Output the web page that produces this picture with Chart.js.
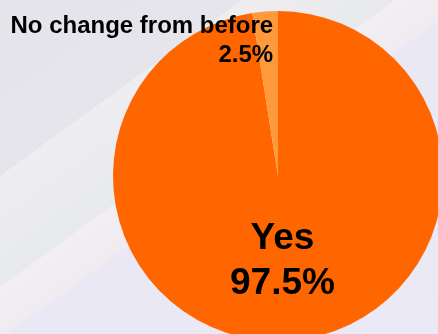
<!DOCTYPE html>
<html>
<head>
<meta charset="utf-8">
<script src="https://cdn.jsdelivr.net/npm/chart.js@4.4.1/dist/chart.umd.min.js"></script>
<style>
  html, body { margin: 0; padding: 0; }
  body {
    width: 438px; height: 334px; overflow: hidden; position: relative;
    background: linear-gradient(144deg, #e6e4eb 0%, #e7e5ec 27%, #eeeef1 27%, #e8e9eb 44%, #f3eef1 44%, #efebf0 52%, #eae8f4 52%, #ebe9f5 100%);
  }
  #wrap { position: absolute; left: 0; top: 0; width: 460px; height: 360px; }
</style>
</head>
<body>
<div id="wrap"><canvas id="pie"></canvas></div>
<script>
  const categories = ['Yes', 'No change from before'];
  const shares = [97.5, 2.5];
  const sliceColors = ['#ff6600', '#ff9a3c'];

  // label style per slice: inside (Yes) or outside near the rim (small slice)
  const labelStyle = [
    { font: 37, lineH: 45, radius: 0.5, align: 'center', dx: -2 },
    { font: 24, lineH: 29, radius: 0.836, align: 'right', dx: 6 }
  ];

  const sliceLabels = {
    id: 'sliceLabels',
    afterDatasetsDraw(chart) {
      const ctx = chart.ctx;
      const arcs = chart.getDatasetMeta(0).data;
      arcs.forEach((arc, i) => {
        const st = labelStyle[i];
        const p = arc.getProps(['x', 'y', 'startAngle', 'endAngle', 'outerRadius'], true);
        const mid = (p.startAngle + p.endAngle) / 2;
        const r = p.outerRadius * st.radius;
        const ax = p.x + Math.cos(mid) * r + st.dx;
        const ay = p.y + Math.sin(mid) * r;
        const lines = [categories[i], shares[i] + '%'];
        const cap = st.font * 0.716;
        ctx.save();
        ctx.font = `bold ${st.font}px "Liberation Sans", Arial, sans-serif`;
        ctx.fillStyle = '#000';
        ctx.textAlign = st.align;
        ctx.textBaseline = 'alphabetic';
        lines.forEach((txt, k) => {
          const y = ay + (k - (lines.length - 1) / 2) * st.lineH + cap / 2;
          ctx.fillText(txt, ax, y);
        });
        ctx.restore();
      });
    }
  };

  new Chart(document.getElementById('pie'), {
    type: 'pie',
    data: {
      labels: categories,
      datasets: [{ data: shares, backgroundColor: sliceColors, borderWidth: 0, hoverOffset: 0 }]
    },
    options: {
      responsive: true,
      maintainAspectRatio: false,
      animation: false,
      layout: { padding: { left: 113, right: 17, top: 11, bottom: 19 } },
      plugins: { legend: { display: false }, tooltip: { enabled: false } }
    },
    plugins: [sliceLabels]
  });
</script>
</body>
</html>
